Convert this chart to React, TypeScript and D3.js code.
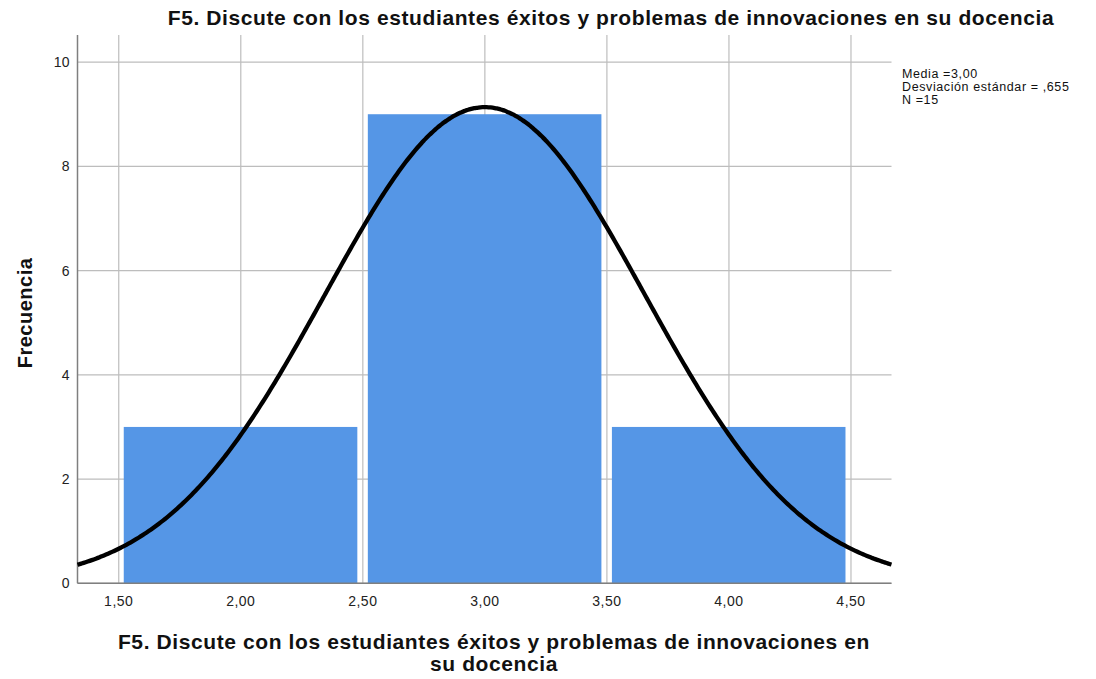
import React from "react";
import * as d3 from "d3";

const binStarts = [1.5, 2.5, 3.5];
const binEnds = [2.5, 3.5, 4.5];
const frequencies = [3, 9, 3];
const xTicks = [1.5, 2.0, 2.5, 3.0, 3.5, 4.0, 4.5];
const yTicks = [0, 2, 4, 6, 8, 10];
const mean = 3.0;
const sd = 0.655;
const n = 15;
const statsLines = ["Media =3,00", "Desviación estándar = ,655", "N =15"];
const title = "F5. Discute con los estudiantes éxitos y problemas de innovaciones en su docencia";
const xTitleLines = ["F5. Discute con los estudiantes éxitos y problemas de innovaciones en", "su docencia"];

export default function App() {
  const W = 1096, H = 679;
  const left = 77.5, right = 891.5, top = 35, bottom = 583.3;
  const x = d3.scaleLinear().domain([1.331, 4.666]).range([left, right]);
  const y = d3.scaleLinear().domain([0, 10.52]).range([bottom, top]);
  const fmt = (v: number) => v.toFixed(2).replace(".", ",");
  const binW = 1;
  const pdf = (v: number) => (n * binW) / (sd * Math.sqrt(2 * Math.PI)) * Math.exp(-0.5 * ((v - mean) / sd) ** 2);
  const pts = d3.range(0, 401).map((i) => 1.331 + (i / 400) * (4.666 - 1.331));
  const line = d3.line<number>().x((d) => x(d)).y((d) => y(pdf(d))).curve(d3.curveBasis);
  const font = "'Liberation Sans', Arial, sans-serif";
  return (
    <svg width={W} height={H} style={{ position: "absolute", left: 0, top: 0, background: "#fff" }} fontFamily={font}>
      {xTicks.map((t) => (
        <line key={"gx" + t} x1={x(t)} x2={x(t)} y1={top} y2={bottom} stroke="#bdbdbd" strokeWidth={1.2} />
      ))}
      {yTicks.map((t) => (
        <line key={"gy" + t} x1={left} x2={right} y1={y(t)} y2={y(t)} stroke="#bdbdbd" strokeWidth={1.2} />
      ))}
      {frequencies.map((f, i) => (
        <rect key={i} x={x(binStarts[i]) + 5} width={x(binEnds[i]) - x(binStarts[i]) - 10.5} y={y(f)} height={y(0) - y(f)} fill="#5596e6" />
      ))}
      <line x1={left} x2={left} y1={top} y2={bottom} stroke="#7f7f7f" strokeWidth={1.5} />
      <line x1={left} x2={right} y1={bottom} y2={bottom} stroke="#7f7f7f" strokeWidth={1.5} />
      <path d={line(pts) || ""} fill="none" stroke="#000" strokeWidth={4.3} />
      {yTicks.map((t) => (
        <text key={"ty" + t} x={70} y={y(t) + 5} textAnchor="end" fontSize={14} letterSpacing={0.4} fill="#222">{t}</text>
      ))}
      {xTicks.map((t) => (
        <text key={"tx" + t} x={x(t)} y={606} textAnchor="middle" fontSize={14} letterSpacing={0.5} fill="#222">{fmt(t)}</text>
      ))}
      <text x={611} y={25} textAnchor="middle" fontSize={21} letterSpacing={0.6} fontWeight="bold" fill="#111">{title}</text>
      <text transform={`translate(32,313) rotate(-90)`} textAnchor="middle" fontSize={20} letterSpacing={0.5} fontWeight="bold" fill="#111">Frecuencia</text>
      {xTitleLines.map((l, i) => (
        <text key={i} x={494} y={649 + i * 22} textAnchor="middle" fontSize={21} letterSpacing={0.6} fontWeight="bold" fill="#111">{l}</text>
      ))}
      {statsLines.map((l, i) => (
        <text key={i} x={902} y={78 + i * 13} fontSize={12.5} letterSpacing={0.6} fill="#111">{l}</text>
      ))}
    </svg>
  );
}
